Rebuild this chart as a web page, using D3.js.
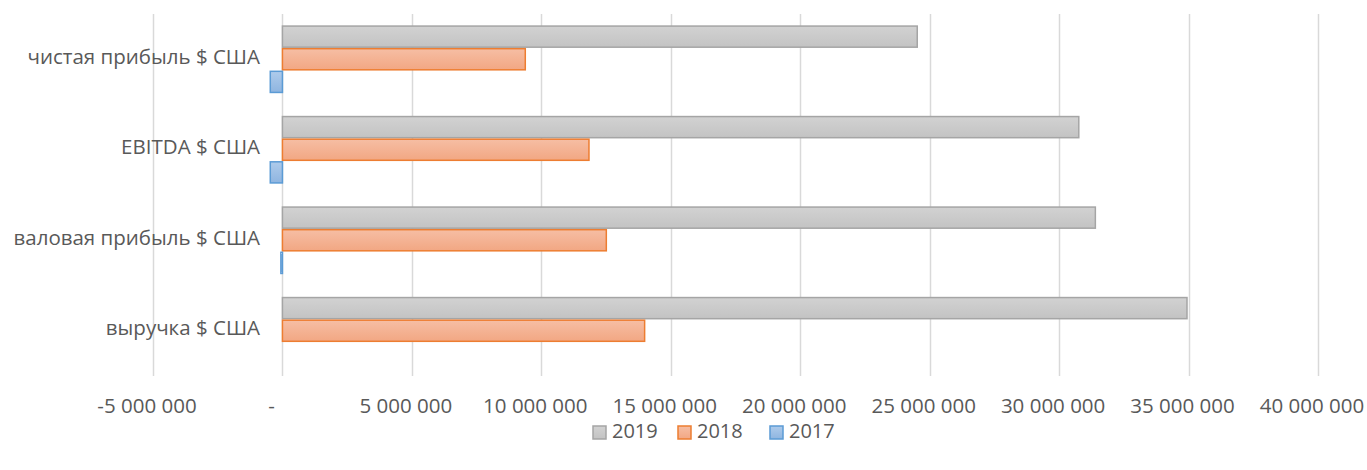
<!DOCTYPE html>
<html>
<head>
<meta charset="utf-8">
<script src="https://cdn.jsdelivr.net/npm/d3@7"></script>
<style>
  body { margin: 0; background: #fff; }
  text { font-family: "Open Sans", "Noto Sans", sans-serif; fill: #595959; }
</style>
</head>
<body>
<div id="chart"></div>
<script>
// categories from top to bottom
var categories = ["чистая прибыль $ США", "EBITDA $ США", "валовая прибыль $ США", "выручка $ США"];
var years = ["2019", "2018", "2017"];
var values2019 = [24520000, 30760000, 31400000, 34940000];
var values2018 = [9380000, 11840000, 12510000, 13990000];
var values2017 = [-470000, -470000, -60000, 0];
var tickValues = [-5000000, 0, 5000000, 10000000, 15000000, 20000000, 25000000, 30000000, 35000000, 40000000];

var series = {"2019": values2019, "2018": values2018, "2017": values2017};

var width = 1367, height = 470;
var svg = d3.select("#chart").append("svg")
    .attr("width", width)
    .attr("height", height);

// gradient fills like the office style
var colors = {
  "2019": {top: "#d2d2d2", bottom: "#c3c3c3", stroke: "#a5a5a5"},
  "2018": {top: "#f6bea4", bottom: "#f2a783", stroke: "#ed7d31"},
  "2017": {top: "#aecbeb", bottom: "#8fb5e0", stroke: "#5b9bd5"}
};
var defs = svg.append("defs");
years.forEach(function(y) {
  var g = defs.append("linearGradient").attr("id", "g" + y)
      .attr("x1", 0).attr("y1", 0).attr("x2", 0).attr("y2", 1);
  g.append("stop").attr("offset", "0%").attr("stop-color", colors[y].top);
  g.append("stop").attr("offset", "100%").attr("stop-color", colors[y].bottom);
});

var x = d3.scaleLinear().domain([-5000000, 40000000]).range([153, 1318]);
var y = d3.scaleBand().domain(categories).range([14, 376]).paddingInner(0.25).paddingOuter(0.125);
var ySub = d3.scaleBand().domain(years).range([0, y.bandwidth()]);

var loc = d3.formatLocale({decimal: ",", thousands: " ", grouping: [3], currency: ["", ""], minus: "-"});
var fmt = loc.format(",.0f");

// gridlines
svg.append("g").selectAll("line").data(tickValues).enter().append("line")
    .attr("x1", function(d) { return Math.round(x(d)) + 0.5; })
    .attr("x2", function(d) { return Math.round(x(d)) + 0.5; })
    .attr("y1", 14).attr("y2", 376)
    .attr("stroke", "#d9d9d9").attr("stroke-width", 1.5);

// x tick labels (accounting format pads a bit on the right)
svg.append("g").selectAll("text").data(tickValues).enter().append("text")
    .attr("x", function(d) { return x(d) - (d === 0 ? 11 : 6); })
    .attr("y", 408)
    .attr("text-anchor", "middle")
    .attr("dominant-baseline", "middle")
    .style("font-size", "20.5px")
    .text(function(d) { return d === 0 ? "-" : fmt(d); });

// category labels
svg.append("g").selectAll("text").data(categories).enter().append("text")
    .attr("x", 260)
    .attr("y", function(d) { return y(d) + y.bandwidth() / 2 - 1; })
    .attr("text-anchor", "end")
    .attr("dominant-baseline", "middle")
    .style("font-size", "20.5px")
    .text(function(d) { return d; });

// bars
var groups = svg.append("g").selectAll("g").data(categories).enter().append("g")
    .attr("transform", function(d) { return "translate(0," + y(d) + ")"; });

groups.selectAll("rect").data(function(d, i) {
    return years.map(function(yr) { return {year: yr, value: series[yr][i]}; });
  }).enter().append("rect")
    .filter(function(d) { return d.value !== 0; })
    .attr("x", function(d) { return Math.min(x(0), x(d.value)); })
    .attr("y", function(d) { return ySub(d.year) + 0.75; })
    .attr("width", function(d) { return Math.max(0.5, Math.abs(x(d.value) - x(0))); })
    .attr("height", ySub.bandwidth() - 1.5)
    .attr("fill", function(d) { return "url(#g" + d.year + ")"; })
    .attr("stroke", function(d) { return colors[d.year].stroke; })
    .attr("stroke-width", 1.5);

// legend
var legend = svg.append("g").attr("transform", "translate(0,433)");
var lx = [593, 678, 770];
years.forEach(function(yr, i) {
  legend.append("rect")
      .attr("x", lx[i]).attr("y", -7)
      .attr("width", 13).attr("height", 13)
      .attr("fill", "url(#g" + yr + ")")
      .attr("stroke", colors[yr].stroke).attr("stroke-width", 1.5);
  legend.append("text")
      .attr("x", lx[i] + 19).attr("y", 0)
      .attr("dominant-baseline", "middle")
      .style("font-size", "20px")
      .text(yr);
});
</script>
</body>
</html>
